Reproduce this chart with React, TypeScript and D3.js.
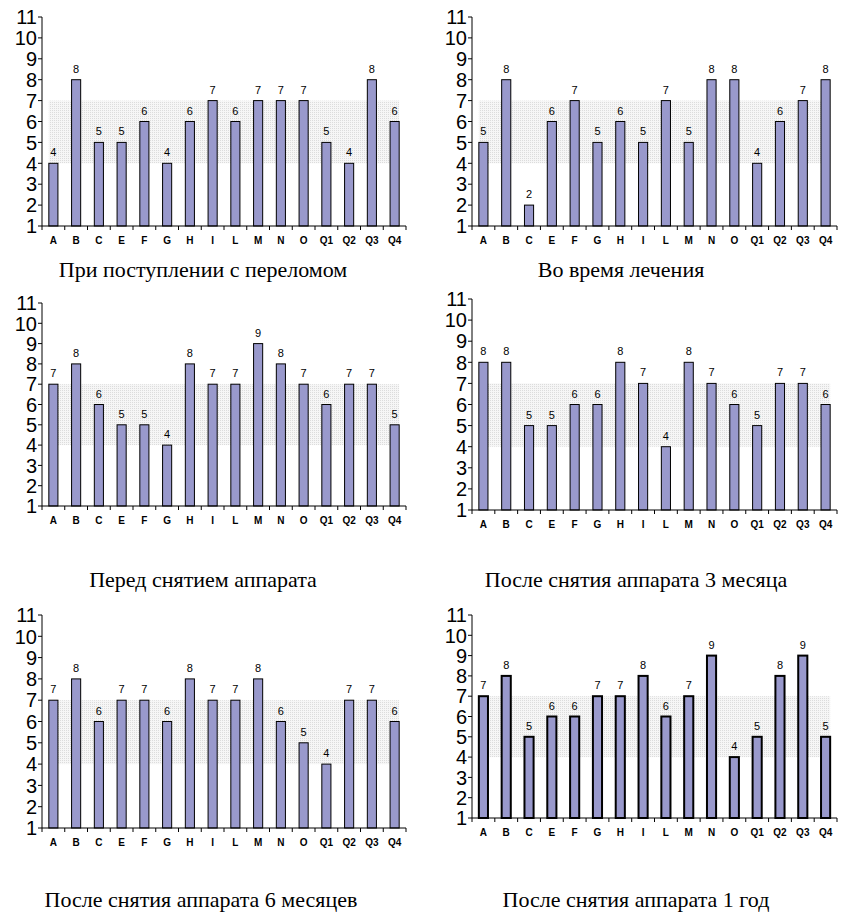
import React from "react";
import * as d3 from "d3";

const categories = ["A", "B", "C", "E", "F", "G", "H", "I", "L", "M", "N", "O", "Q1", "Q2", "Q3", "Q4"];
const yTicks = [1, 2, 3, 4, 5, 6, 7, 8, 9, 10, 11];
const normBand = [4, 7];

const admission = [4, 8, 5, 5, 6, 4, 6, 7, 6, 7, 7, 7, 5, 4, 8, 6];
const treatment = [5, 8, 2, 6, 7, 5, 6, 5, 7, 5, 8, 8, 4, 6, 7, 8];
const beforeRemoval = [7, 8, 6, 5, 5, 4, 8, 7, 7, 9, 8, 7, 6, 7, 7, 5];
const after3m = [8, 8, 5, 5, 6, 6, 8, 7, 4, 8, 7, 6, 5, 7, 7, 6];
const after6m = [7, 8, 6, 7, 7, 6, 8, 7, 7, 8, 6, 5, 4, 7, 7, 6];
const after1y = [7, 8, 5, 6, 6, 7, 7, 8, 6, 7, 9, 4, 5, 8, 9, 5];

const panels = [
  { title: "При поступлении с переломом", values: admission, x0: 42, x1: 406, top: 17, bottom: 226, titleX: 203, titleY: 277, stroke: 1 },
  { title: "Во время лечения", values: treatment, x0: 472, x1: 837, top: 17, bottom: 226, titleX: 621, titleY: 277, stroke: 1 },
  { title: "Перед снятием аппарата", values: beforeRemoval, x0: 42, x1: 406, top: 303, bottom: 506, titleX: 203, titleY: 587, stroke: 1 },
  { title: "После снятия аппарата 3 месяца", values: after3m, x0: 472, x1: 837, top: 299, bottom: 510, titleX: 636, titleY: 587, stroke: 1 },
  { title: "После снятия аппарата 6 месяцев", values: after6m, x0: 42, x1: 406, top: 615, bottom: 828, titleX: 201, titleY: 907, stroke: 1 },
  { title: "После снятия аппарата 1 год", values: after1y, x0: 472, x1: 837, top: 615, bottom: 818, titleX: 636, titleY: 907, stroke: 2 },
];

function Panel({ p }: { p: (typeof panels)[number] }) {
  const x = d3.scaleBand<string>().domain(categories).range([p.x0, p.x1]).paddingInner(0.6).paddingOuter(0.3);
  const xo = d3.scaleBand<string>().domain(categories).range([p.x0, p.x1]);
  const y = d3.scaleLinear().domain([1, 11]).range([p.bottom, p.top]);
  const bandX0 = x(categories[0])!;
  const bandX1 = x(categories[categories.length - 1])! + x.bandwidth();
  return (
    <g>
      <rect x={bandX0} y={y(normBand[1])} width={bandX1 - bandX0} height={y(normBand[0]) - y(normBand[1])} fill="url(#dots)" />
      {p.values.map((v, i) => (
        <g key={i}>
          <rect x={x(categories[i])} y={y(v)} width={x.bandwidth()} height={y(1) - y(v)}
            fill="#9999cc" stroke="#000" strokeWidth={p.stroke} />
          <text x={x(categories[i])! + x.bandwidth() / 2} y={y(v) - 7} textAnchor="middle" fontSize={11}
            fontFamily="Liberation Sans, Arial">{v}</text>
        </g>
      ))}
      <line x1={p.x0} x2={p.x0} y1={p.top} y2={p.bottom} stroke="#000" />
      <line x1={p.x0} x2={p.x1} y1={p.bottom} y2={p.bottom} stroke="#000" />
      {yTicks.map((t) => (
        <g key={t}>
          <line x1={p.x0 - 4} x2={p.x0} y1={y(t)} y2={y(t)} stroke="#000" />
          <text x={p.x0 - 5} y={y(t)} dy="0.36em" textAnchor="end" fontSize={20} fontFamily="Liberation Sans, Arial">{t}</text>
        </g>
      ))}
      {categories.map((c) => (
        <g key={c}>
          <line x1={xo(c)} x2={xo(c)} y1={p.bottom} y2={p.bottom + 4} stroke="#000" />
          <text x={xo(c)! + xo.bandwidth() / 2} y={p.bottom + 18} textAnchor="middle" fontSize={10} fontWeight="bold"
            fontFamily="Liberation Sans, Arial">{c}</text>
        </g>
      ))}
      <line x1={p.x1} x2={p.x1} y1={p.bottom} y2={p.bottom + 4} stroke="#000" />
      <text x={p.titleX} y={p.titleY} textAnchor="middle" fontSize={22}
        fontFamily="Liberation Serif, Times New Roman">{p.title}</text>
    </g>
  );
}

export default function App() {
  return (
    <svg width={847} height={916} style={{ position: "absolute", left: 0, top: 0, background: "#fff" }}>
      <defs>
        <pattern id="dots" width={2} height={2} patternUnits="userSpaceOnUse">
          <rect width={2} height={2} fill="#f6f6f6" />
          <rect width={1} height={1} fill="#dcdcdc" />
        </pattern>
      </defs>
      {panels.map((p, i) => <Panel key={i} p={p} />)}
    </svg>
  );
}
